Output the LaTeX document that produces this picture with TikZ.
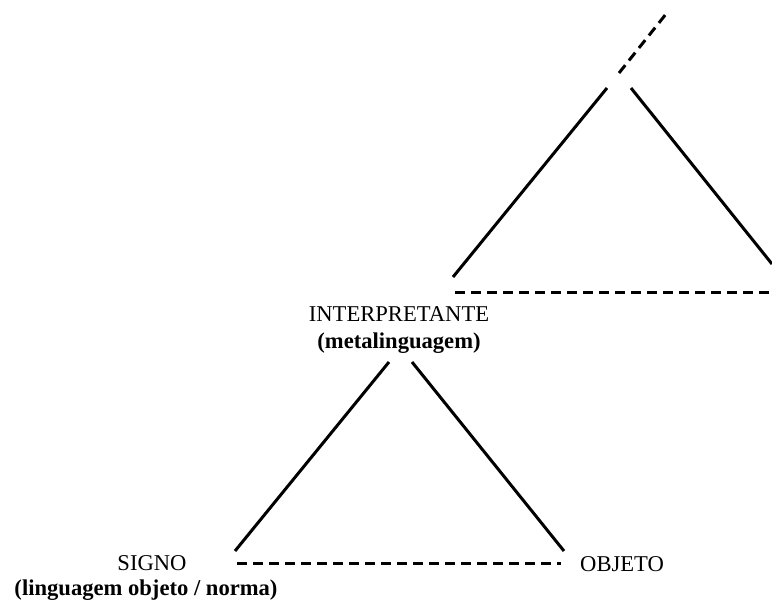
\documentclass[tikz,border=0pt]{standalone}
\usepackage{fontspec}
\setmainfont{Liberation Serif}
\begin{document}
\begin{tikzpicture}[x=1pt,y=-1pt,
  leg/.style={line width=3pt},
  dleg/.style={line width=3pt,dash pattern=on 10pt off 6pt},
  lbl/.style={inner sep=0pt,anchor=base,font=\fontsize{22.6}{27}\selectfont},
  blbl/.style={lbl,font=\fontsize{22.6}{27}\selectfont\bfseries}]
\useasboundingbox (0,0) rectangle (772,603);
% lower triangle
\coordinate (lA1) at (389,362);
\coordinate (lA2) at (412,362);
\coordinate (lL) at (235,551);
\coordinate (lR) at (564,551);
\coordinate (lDL) at (237,563);
\coordinate (lDR) at (561,563);
% upper triangle
\coordinate (uA1) at (607,88);
\coordinate (uA2) at (631,88);
\coordinate (uL) at (453,277);
\coordinate (uR) at (772,264);
\coordinate (uDL) at (455,292);
\coordinate (uDR) at (772,292);
\coordinate (tA) at (619,73);
\coordinate (tB) at (666,14);
% labels
\node[lbl] (interp) at (399,321) {INTERPRETANTE};
\node[blbl] (meta) at (399,348) {(metalinguagem)};
\node[lbl] (signo) at (152,570) {SIGNO};
\node[blbl] (ling) at (146,595) {(linguagem objeto / norma)};
\node[lbl,anchor=base west] (objeto) at (580,571) {OBJETO};
% lines
\draw[leg] (lL) -- (lA1);
\draw[leg] (lA2) -- (lR);
\draw[dleg] (lDL) -- (lDR);
\draw[leg] (uL) -- (uA1);
\draw[leg] (uA2) -- (uR);
\draw[dleg] (uDL) -- (uDR);
\draw[dleg] (tA) -- (tB);
\end{tikzpicture}
\end{document}
